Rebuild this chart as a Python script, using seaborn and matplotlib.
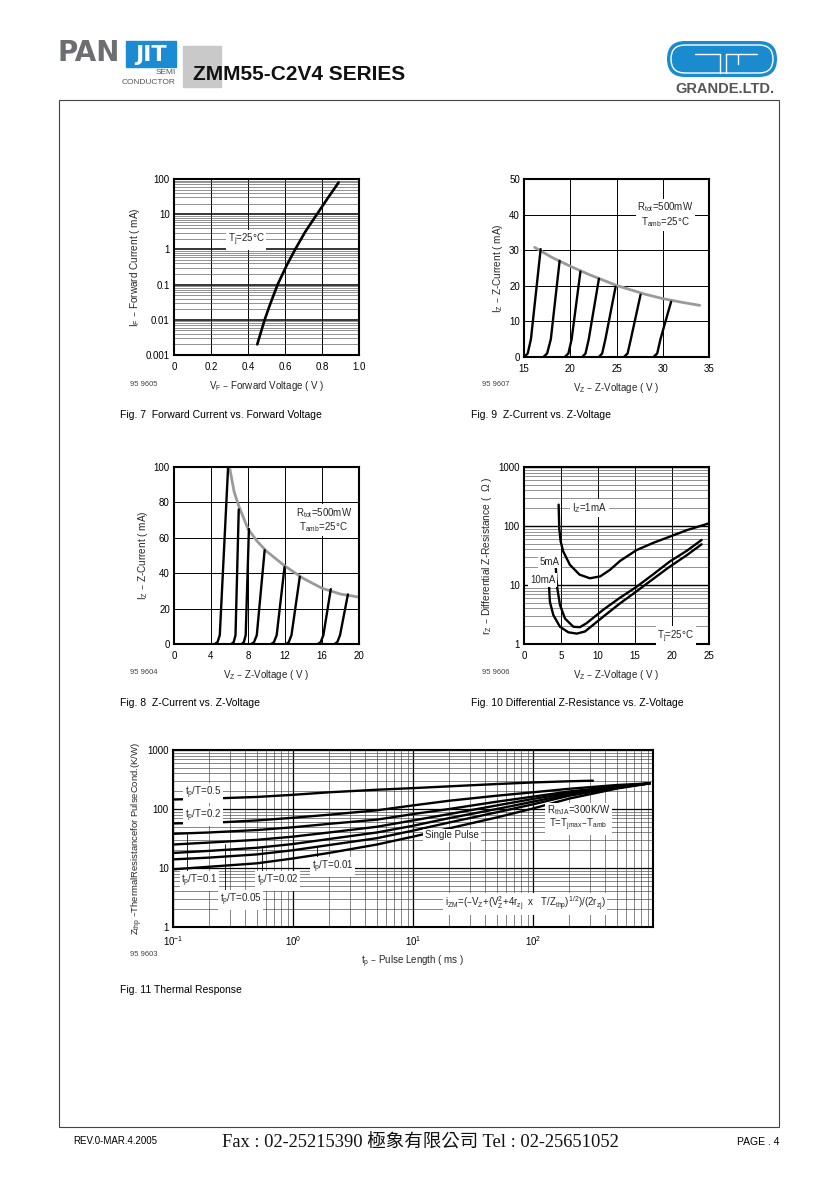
import numpy as np
import matplotlib
matplotlib.use("Agg")
import matplotlib.pyplot as plt
import seaborn as sns
from matplotlib.patches import Rectangle, FancyBboxPatch
from matplotlib.ticker import LogLocator, NullFormatter

# ---------------- values ----------------
# Fig. 7  forward current vs forward voltage
fig7_vf = [0.45, 0.47, 0.49, 0.52, 0.56, 0.61, 0.655, 0.71, 0.77, 0.83, 0.89]
fig7_if = [0.002, 0.0045, 0.01, 0.028, 0.1, 0.36, 1.0, 3.2, 9.5, 28, 80]
fig7_xticks = [0, 0.2, 0.4, 0.6, 0.8, 1.0]
fig7_xlabels = ['0', '0.2', '0.4', '0.6', '0.8', '1.0']
fig7_yticks = [0.001, 0.01, 0.1, 1, 10, 100]
fig7_ylabels = ['0.001', '0.01', '0.1', '1', '10', '100']

# Fig. 9  Z-current vs Z-voltage (15..35 V)
knee_levels = [0, 1.0, 5.0]          # mA at foot / bend / knee points
fig9_foot_v = [15.05, 17.1, 19.4, 21.3, 23.1, 25.8, 29.0]
fig9_bend_v = [15.4, 17.5, 19.8, 21.65, 23.45, 26.2, 29.4]
fig9_knee_v = [15.75, 17.9, 20.15, 22.0, 23.8, 26.55, 29.75]
fig9_top_v = [16.8, 18.85, 21.1, 23.1, 24.9, 27.6, 30.9]
fig9_top_i = [30.3, 27.0, 24.0, 22.0, 19.7, 17.5, 15.5]
fig9_limit_v = [16.15, 18, 20, 22, 25, 28, 30, 32, 34]
fig9_limit_i = [30.8, 28, 25.5, 23.2, 20.1, 17.7, 16.4, 15.4, 14.5]

# Fig. 8  Z-current vs Z-voltage (0..20 V)
fig8_foot_v = [4.4, 6.2, 7.3, 8.35, 10.5, 12.1, 15.55, 17.35]
fig8_bend_v = [4.7, 6.45, 7.55, 8.65, 10.8, 12.4, 15.85, 17.65]
fig8_knee_v = [4.95, 6.65, 7.75, 8.95, 11.1, 12.7, 16.15, 17.95]
fig8_top_v = [5.85, 7.0, 8.1, 9.8, 11.95, 13.6, 16.95, 18.8]
fig8_top_i = [100, 76, 65, 53, 43.5, 38, 31, 28]
fig8_limit_v = [6.0, 6.5, 7, 8, 9, 10, 12, 14, 16, 18, 20]
fig8_limit_i = [100, 86, 78, 65, 58, 52.4, 44, 37, 31.5, 28.2, 26.5]

# Fig. 10  differential Z-resistance vs Z-voltage
fig10_1ma_v = [4.68, 4.72, 4.76, 4.95, 5.3, 6.2, 7.5, 8.9, 10.3, 11.6, 13.0, 15.2, 17.5, 19.7, 22.0, 25.0]
fig10_1ma_r = [230, 150, 92, 55, 37, 22, 15, 13, 14, 18, 25.7, 39, 52, 66, 85, 111]
fig10_5ma_v = [4.3, 4.38, 4.5, 4.86, 5.54, 6.67, 7.57, 8.47, 10.7, 12.9, 15.2, 17.5, 19.7, 22.0, 24.0]
fig10_5ma_r = [20, 13, 8.8, 4.6, 2.7, 1.96, 1.93, 2.26, 3.8, 6.0, 9.3, 15.3, 25, 38, 58]
fig10_10ma_v = [3.38, 3.5, 3.96, 4.86, 5.99, 7.12, 8.24, 10.7, 12.9, 15.2, 17.5, 19.7, 22.0, 24.0]
fig10_10ma_r = [9.8, 5.2, 3.1, 1.96, 1.58, 1.5, 1.63, 2.9, 4.8, 7.8, 12.8, 20.5, 32, 49]
fig10_yticks = [1, 10, 100, 1000]

# Fig. 11  thermal response
fig11_tp = [0.1, 0.2, 0.5, 1, 2, 5, 10, 20, 50, 100, 200, 500, 940]
fig11_tp05 = [0.1, 0.2, 0.5, 1, 2, 5, 10, 20, 50, 100, 200, 316]
fig11_z05 = [145, 150, 160, 174, 192, 212, 226, 242, 265, 282, 295, 302]
fig11_z02 = [57, 58, 64, 71, 80, 95, 115, 138, 168, 192, 220, 255, 272]
fig11_z01 = [38, 40, 44, 49, 56, 66, 82, 100, 133, 162, 198, 243, 272]
fig11_z005 = [25, 27, 30, 34, 40, 50, 64, 82, 115, 148, 188, 238, 272]
fig11_z002 = [18, 19.5, 22, 25.5, 31, 40, 52, 70, 100, 133, 178, 233, 272]
fig11_z001 = [14, 15, 17, 20, 24.5, 32, 43, 59, 88, 120, 168, 228, 272]
fig11_zsingle = [9.5, 10.5, 12, 14.5, 18, 25, 34, 47, 72, 102, 150, 222, 272]
fig11_xticks = [0.1, 1, 10, 100, 1000]
fig11_xlabels = [r'10$^{-1}$', r'10$^{0}$', r'10$^{1}$', r'10$^{2}$', '']

# ---------------- style ----------------
sns.set_theme(style="white")
plt.rcParams['font.family'] = ['Liberation Sans', 'Noto Sans CJK TC', 'DejaVu Sans']
plt.rcParams['mathtext.default'] = 'regular'
plt.rcParams['axes.unicode_minus'] = False

W, H = 840, 1189
fig = plt.figure(figsize=(W / 100, H / 100), dpi=100)
fig.patch.set_facecolor('white')

# page layer in pixel coordinates (y downwards)
page = fig.add_axes([0, 0, 1, 1], zorder=0)
page.set_xlim(0, W)
page.set_ylim(H, 0)
page.axis('off')


def box(l, t, r, b):
    return fig.add_axes([l / W, 1 - b / H, (r - l) / W, (b - t) / H], zorder=2)


def frame(ax):
    ax.set_facecolor('white')
    for sp in ax.spines.values():
        sp.set_visible(True)
        sp.set_color('black')
        sp.set_linewidth(1.5)
    ax.tick_params(which='both', length=0, labelsize=7, colors='black')
    ax.tick_params(axis='x', pad=5)
    ax.tick_params(axis='y', pad=3)
    ax.set_axisbelow(True)


def draw(ax, x, y, color='black', lw=1.7):
    sns.lineplot(x=x, y=y, ax=ax, color=color, lw=lw, sort=False,
                 estimator=None, legend=False)


def note(ax, x, y, s, **kw):
    kw.setdefault('fontsize', 7)
    kw.setdefault('va', 'center')
    ax.text(x, y, s, bbox=dict(fc='white', ec='none', pad=1.2), zorder=5, **kw)


def log_minor(axis):
    axis.set_minor_locator(LogLocator(base=10, subs=np.arange(2, 10), numticks=40))
    axis.set_minor_formatter(NullFormatter())


# ---------------- header ----------------
page.text(57, 53, 'PAN', fontsize=20, fontweight='bold', color='#6d6e71',
          ha='left', va='center', family='DejaVu Sans')
page.add_patch(Rectangle((126, 41), 50, 26, color='#1b8bd3'))
page.text(151, 55, 'JIT', fontsize=16, fontweight='bold', color='white',
          ha='center', va='center', family='DejaVu Sans')
page.text(176, 72, 'SEMI', fontsize=6, color='#555555', ha='right', va='center')
page.text(176, 82, 'CONDUCTOR', fontsize=6, color='#555555', ha='right', va='center')
page.add_patch(Rectangle((183, 46), 38, 41, color='#c9c9c9'))
page.text(193, 75, 'ZMM55-C2V4 SERIES', fontsize=15, fontweight='bold',
          color='#111111', ha='left', va='center')

page.add_patch(FancyBboxPatch((667, 41), 110, 36, boxstyle='round,pad=0,rounding_size=18',
                              fc='#1b8bd0', ec='none'))
page.add_patch(FancyBboxPatch((671, 45), 102, 28, boxstyle='round,pad=0,rounding_size=14',
                              fill=False, ec='white', lw=1.0))
for xs, ys in [([695, 720], [54, 54]), ([720, 720], [54, 73]),
               ([726, 757], [54, 54]), ([726, 726], [54, 73]), ([738, 738], [54, 64])]:
    page.plot(xs, ys, color='white', lw=1.0)
page.text(725, 89, 'GRANDE.LTD.', fontsize=10.5, fontweight='bold', color='#555555',
          ha='center', va='center')

page.add_patch(Rectangle((59, 100), 720, 1027, fill=False, ec='#444444', lw=0.8))

# ---------------- Fig. 7 ----------------
ax = box(174, 179, 359, 355)
frame(ax)
ax.set_yscale('log')
ax.set_xlim(0, 1.0)
ax.set_ylim(0.001, 100)
ax.set_xticks(fig7_xticks)
ax.set_xticklabels(fig7_xlabels)
ax.set_yticks(fig7_yticks)
ax.set_yticklabels(fig7_ylabels)
log_minor(ax.yaxis)
ax.grid(which='major', axis='y', color='black', lw=1.1)
ax.grid(which='minor', axis='y', color='#555555', lw=0.45)
ax.grid(which='major', axis='x', color='black', lw=0.7)
draw(ax, fig7_vf, fig7_if, lw=1.9)
note(ax, 0.29, 1.85, r'T$_j$=25°C')
ax.set_xlabel(r'V$_F$ – Forward Voltage ( V )', fontsize=7, labelpad=5)
ax.set_ylabel(r'I$_F$ – Forward Current ( mA)', fontsize=7.2, labelpad=3)

# ---------------- Fig. 9 ----------------
ax = box(524, 179, 709, 357)
frame(ax)
ax.set_xlim(15, 35)
ax.set_ylim(0, 50)
ax.set_xticks([15, 20, 25, 30, 35])
ax.set_yticks([0, 10, 20, 30, 40, 50])
ax.grid(which='major', color='black', lw=0.7)
draw(ax, fig9_limit_v, fig9_limit_i, color='#9a9a9a', lw=2.0)
for i in range(len(fig9_top_v)):
    draw(ax, [fig9_foot_v[i], fig9_bend_v[i], fig9_knee_v[i], fig9_top_v[i]],
         knee_levels + [fig9_top_i[i]])
note(ax, 30.3, 40.0, 'R$_{tot}$=500mW\nT$_{amb}$=25°C', ha='center', linespacing=1.1)
ax.set_xlabel(r'V$_Z$ – Z-Voltage ( V )', fontsize=7, labelpad=5)
ax.set_ylabel(r'I$_Z$ – Z-Current ( mA)', fontsize=7.2, labelpad=3)

# ---------------- Fig. 8 ----------------
ax = box(174, 467, 359, 644)
frame(ax)
ax.set_xlim(0, 20)
ax.set_ylim(0, 100)
ax.set_xticks([0, 4, 8, 12, 16, 20])
ax.set_yticks([0, 20, 40, 60, 80, 100])
ax.grid(which='major', color='black', lw=0.7)
draw(ax, fig8_limit_v, fig8_limit_i, color='#9a9a9a', lw=2.0)
for i in range(len(fig8_top_v)):
    draw(ax, [fig8_foot_v[i], fig8_bend_v[i], fig8_knee_v[i], fig8_top_v[i]],
         knee_levels + [fig8_top_i[i]])
note(ax, 16.2, 70.0, 'R$_{tot}$=500mW\nT$_{amb}$=25°C', ha='center', linespacing=1.1)
ax.set_xlabel(r'V$_Z$ – Z-Voltage ( V )', fontsize=7, labelpad=5)
ax.set_ylabel(r'I$_Z$ – Z-Current ( mA)', fontsize=7.2, labelpad=3)

# ---------------- Fig. 10 ----------------
ax = box(524, 467, 709, 644)
frame(ax)
ax.set_yscale('log')
ax.set_xlim(0, 25)
ax.set_ylim(1, 1000)
ax.set_xticks([0, 5, 10, 15, 20, 25])
ax.set_yticks(fig10_yticks)
ax.set_yticklabels([str(v) for v in fig10_yticks])
log_minor(ax.yaxis)
ax.grid(which='major', axis='y', color='black', lw=1.0)
ax.grid(which='minor', axis='y', color='#555555', lw=0.45)
ax.grid(which='major', axis='x', color='black', lw=0.7)
draw(ax, fig10_1ma_v, fig10_1ma_r)
draw(ax, fig10_5ma_v, fig10_5ma_r)
draw(ax, fig10_10ma_v, fig10_10ma_r)
note(ax, 6.5, 202, r'I$_Z$=1mA')
note(ax, 2.1, 25, '5mA')
note(ax, 0.8, 12.2, '10mA')
note(ax, 18.0, 1.35, r'T$_j$=25°C')
ax.set_xlabel(r'V$_Z$ – Z-Voltage ( V )', fontsize=7, labelpad=5)
ax.set_ylabel(r'r$_Z$ – Differential Z-Resistance (  Ω )', fontsize=7.4, labelpad=3)

# ---------------- Fig. 11 ----------------
ax = box(173, 750, 653, 927)
frame(ax)
ax.set_xscale('log')
ax.set_yscale('log')
ax.set_xlim(0.1, 1000)
ax.set_ylim(1, 1000)
ax.set_xticks(fig11_xticks)
ax.set_xticklabels(fig11_xlabels)
ax.set_yticks([1, 10, 100, 1000])
ax.set_yticklabels(['1', '10', '100', '1000'])
log_minor(ax.xaxis)
log_minor(ax.yaxis)
ax.grid(which='major', color='black', lw=0.9)
ax.grid(which='minor', color='#444444', lw=0.45)
draw(ax, fig11_tp05, fig11_z05)
for zs in [fig11_z02, fig11_z01, fig11_z005, fig11_z002, fig11_z001, fig11_zsingle]:
    draw(ax, fig11_tp, zs)
# leader lines from the labels to their curves
for lx, y0, y1 in [(0.13, 7.0, 37), (0.27, 3.4, 26), (0.55, 7.0, 22), (1.6, 12.0, 24)]:
    ax.plot([lx, lx], [y0, y1], color='black', lw=0.6, zorder=1.5)
note(ax, 0.126, 187, r't$_p$/T=0.5')
note(ax, 0.126, 76, r't$_p$/T=0.2')
note(ax, 0.117, 6.0, r't$_p$/T=0.1')
note(ax, 0.246, 2.9, r't$_p$/T=0.05')
note(ax, 0.50, 6.0, r't$_p$/T=0.02')
note(ax, 1.44, 10.4, r't$_p$/T=0.01')
note(ax, 12.6, 36, 'Single Pulse')
note(ax, 240, 70, 'R$_{thJA}$=300K/W\nT=T$_{jmax}$–T$_{amb}$', ha='center', linespacing=1.0)
note(ax, 86, 2.45, r'i$_{ZM}$=(–V$_Z$+(V$_Z^2$+4r$_{zj}$  x   T/Z$_{thp}$)$^{1/2}$)/(2r$_{zj}$)',
     ha='center')
ax.set_xlabel(r't$_p$ – Pulse Length ( ms )', fontsize=7, labelpad=4)
ax.set_ylabel(r'Z$_{thp}$ –ThermalResistancefor PulseCond.(K/W)', fontsize=6.8, labelpad=2)

# ---------------- page texts ----------------
for x, y, s in [(130, 384, '95 9605'), (482, 384, '95 9607'), (130, 673, '95 9604'),
                (482, 673, '95 9606'), (130, 955, '95 9603')]:
    page.text(x, y, s, fontsize=5.5, color='#444444', ha='left', va='center')

for x, y, s in [(120, 415, 'Fig. 7  Forward Current vs. Forward Voltage'),
                (471, 415, 'Fig. 9  Z-Current vs. Z-Voltage'),
                (120, 703, 'Fig. 8  Z-Current vs. Z-Voltage'),
                (471, 703, 'Fig. 10 Differential Z-Resistance vs. Z-Voltage'),
                (120, 990, 'Fig. 11 Thermal Response')]:
    page.text(x, y, s, fontsize=7.5, color='black', ha='left', va='center')

page.text(73, 1141, 'REV.0-MAR.4.2005', fontsize=7, ha='left', va='center', color='black')
page.text(420, 1143, 'Fax : 02-25215390 極象有限公司 Tel : 02-25651052', fontsize=13.3,
          ha='center', va='center', color='#111111',
          family=['Liberation Serif', 'Noto Sans CJK TC'])
page.text(779, 1142, 'PAGE . 4', fontsize=7.5, ha='right', va='center', color='black')

fig.savefig('out.png', dpi=100, facecolor='white')
